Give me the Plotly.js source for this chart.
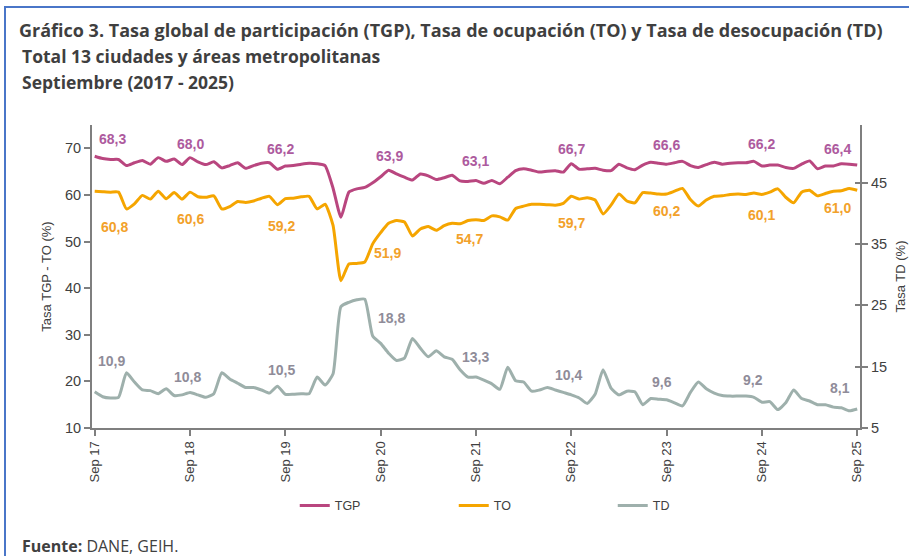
<!DOCTYPE html>
<html>
<head>
<meta charset="utf-8">
<script src="https://cdn.plot.ly/plotly-3.0.1.min.js"></script>
<style>
  html, body { margin: 0; padding: 0; background: #ffffff; }
  #wrap { position: relative; width: 909px; height: 556px; overflow: hidden; }
  #chart { position: absolute; left: 0; top: 0; width: 909px; height: 556px; }
  #frame { position: absolute; left: 4px; top: 6px; width: 920px; height: 600px;
           border-top: 2px solid #4a76c8; border-left: 2px solid #4a76c8; pointer-events: none; }
</style>
</head>
<body>
<div id="wrap">
  <div id="chart"></div>
  <div id="frame"></div>
</div>
<script>
// ---- Data (monthly, Sep 2017 - Sep 2025) ----
const xTickLabels = ['Sep 17', 'Sep 18', 'Sep 19', 'Sep 20', 'Sep 21', 'Sep 22', 'Sep 23', 'Sep 24', 'Sep 25'];

const tgp = [
  68.3, 67.8, 67.6, 67.6, 66.3, 66.9, 67.4, 66.6, 68.0, 67.2, 67.7, 66.5,
  68.0, 67.1, 66.5, 67.1, 65.8, 66.3, 66.9, 65.7, 66.3, 66.8, 66.9, 65.5,
  66.2, 66.3, 66.6, 66.8, 66.7, 66.3, 61.5, 55.2, 60.6, 61.3, 61.6, 62.6,
  63.9, 65.3, 64.5, 63.8, 63.2, 64.5, 64.1, 63.3, 63.7, 64.2, 63.0, 62.9,
  63.1, 62.5, 63.1, 62.4, 63.8, 65.2, 65.6, 65.3, 64.9, 65.1, 65.2, 64.9,
  66.7, 65.5, 65.6, 65.7, 65.3, 65.2, 66.6, 65.8, 65.4, 66.4, 67.0, 66.8,
  66.6, 66.9, 67.2, 66.3, 65.9, 66.5, 67.0, 66.6, 66.8, 66.9, 66.9, 67.2,
  66.2, 66.4, 66.4, 65.9, 65.7, 66.6, 67.3, 65.6, 66.2, 66.2, 66.7, 66.6,
  66.4
];

const to = [
  60.8, 60.7, 60.6, 60.6, 57.0, 58.1, 59.9, 59.1, 60.8, 59.2, 60.5, 59.1,
  60.6, 59.6, 59.5, 59.8, 57.0, 57.5, 58.6, 58.4, 58.7, 59.3, 59.7, 57.9,
  59.2, 59.3, 59.6, 59.7, 57.0, 58.0, 53.5, 41.6, 45.2, 45.3, 45.6, 49.5,
  51.9, 53.9, 54.5, 54.2, 51.2, 52.7, 53.2, 52.4, 53.4, 53.9, 53.8, 54.5,
  54.7, 54.5, 55.5, 55.3, 54.6, 57.1, 57.6, 58.0, 58.0, 57.9, 57.8, 58.2,
  59.7, 59.1, 59.4, 58.9, 55.9, 57.8, 60.2, 58.7, 58.3, 60.5, 60.4, 60.2,
  60.2, 60.8, 61.4, 59.0, 57.6, 58.9, 59.7, 59.8, 60.1, 60.2, 60.1, 60.4,
  60.1, 60.6, 61.3, 59.5, 58.3, 60.6, 61.0, 59.8, 60.3, 60.8, 60.9, 61.4,
  61.0
];

const td = [
  10.9, 10.1, 9.9, 10.0, 14.0, 12.5, 11.2, 11.1, 10.6, 11.4, 10.3, 10.4,
  10.8, 10.4, 10.0, 10.6, 14.0, 13.0, 12.3, 11.6, 11.6, 11.2, 10.7, 11.8,
  10.5, 10.5, 10.6, 10.6, 13.3, 12.0, 13.8, 24.8, 25.5, 25.9, 26.0, 20.0,
  18.8, 17.2, 16.0, 16.4, 19.6, 18.0, 16.6, 17.6, 16.6, 16.2, 14.5, 13.3,
  13.3, 12.8, 12.2, 11.3, 14.9, 12.7, 12.5, 11.0, 11.2, 11.6, 11.2, 10.8,
  10.4, 9.9, 9.0, 10.5, 14.5, 11.5, 10.4, 11.0, 10.9, 8.8, 9.8, 9.7,
  9.6, 9.1, 8.6, 10.8, 12.5, 11.4, 10.7, 10.3, 10.2, 10.2, 10.2, 10.0,
  9.2, 9.3, 8.0, 9.1, 11.2, 9.8, 9.4, 8.8, 8.8, 8.4, 8.3, 7.8,
  8.1
];

// ---- Styles ----
const C_TGP = '#b9467f', C_TGP_LBL = '#ad5a9e';
const C_TO = '#f5a500', C_TO_LBL = '#f2a12a';
const C_TD = '#9eb0ac', C_TD_LBL = '#8f8c99';
const AXIS_C = '#7f7f7f', TXT = '#404040';
const FONT = 'Liberation Sans, Arial, sans-serif';
const TFONT = 'Open Sans, Liberation Sans, sans-serif';

// label offsets (px) per September label: [xshift, yshift]
const tgpOff = [[18,17],[0,14],[-5,17],[9,21],[0,19],[0,15],[0,19],[0,22],[-20,16]];
const toOff  = [[20,-36],[0,-27],[-4,-27],[7,-20],[-6,-19],[0,-27],[0,-17],[0,-21],[-20,-18]];
const tdOff  = [[17,31],[-3,15],[-4,24],[11,25],[0,20],[-3,20],[-5,18],[-9,22],[-17,21]];

const idx = tgp.map((_, i) => i);
const sepIdx = xTickLabels.map((_, k) => k * 12);
const rightTicks = [5, 15, 25, 35, 45];
const rightRange = [5, 54.4];

const lineCommon = { width: 3, shape: 'spline', smoothing: 0.5 };
const traces = [
  { x: idx, y: tgp, name: 'TGP', type: 'scatter', mode: 'lines', line: Object.assign({ color: C_TGP }, lineCommon), yaxis: 'y' },
  { x: idx, y: to,  name: 'TO',  type: 'scatter', mode: 'lines', line: Object.assign({ color: C_TO }, lineCommon), yaxis: 'y' },
  { x: idx, y: td,  name: 'TD',  type: 'scatter', mode: 'lines', line: Object.assign({ color: C_TD }, lineCommon), yaxis: 'y2' },
  // invisible helper so the inner half of the right-axis cross ticks is drawn
  { x: idx, y: td, type: 'scatter', mode: 'lines', line: { width: 0, color: 'rgba(0,0,0,0)' },
    showlegend: false, hoverinfo: 'skip', yaxis: 'y3' }
];

const fmt = v => v.toFixed(1).replace('.', ',');
const annotations = [];
function addLabels(series, yref, color, offs) {
  sepIdx.forEach((i, k) => {
    annotations.push({
      x: i, y: series[i], xref: 'x', yref: yref,
      text: '<b>' + fmt(series[i]) + '</b>', showarrow: false,
      xshift: offs[k][0], yshift: offs[k][1],
      font: { family: FONT, size: 14, color: color }
    });
  });
}
addLabels(tgp, 'y', C_TGP_LBL, tgpOff);
addLabels(to, 'y', C_TO_LBL, toOff);
addLabels(td, 'y2', C_TD_LBL, tdOff);

// subtitle lines and source
const leftX = -0.0929;
annotations.push({ xref: 'paper', yref: 'paper', x: leftX, y: 1.2287, xanchor: 'left', yanchor: 'middle',
  text: '<b>Total 13 ciudades y áreas metropolitanas</b>', showarrow: false, borderpad: 0,
  font: { family: TFONT, size: 17.5, color: '#3f3f3f' } });
annotations.push({ xref: 'paper', yref: 'paper', x: leftX, y: 1.1429, xanchor: 'left', yanchor: 'middle',
  text: '<b>Septiembre (2017 - 2025)</b>', showarrow: false, borderpad: 0,
  font: { family: TFONT, size: 17.5, color: '#3f3f3f' } });
annotations.push({ xref: 'paper', yref: 'paper', x: leftX, y: -0.388, xanchor: 'left', yanchor: 'middle',
  text: '<b>Fuente:</b> DANE, GEIH.', showarrow: false, borderpad: 0,
  font: { family: TFONT, size: 16, color: '#404040' } });

const layout = {
  width: 909, height: 556,
  margin: { l: 92, r: 49, t: 125, b: 128 },
  paper_bgcolor: '#ffffff', plot_bgcolor: '#ffffff',
  font: { family: FONT, color: TXT },
  separators: ',.',
  showlegend: true,
  title: {
    text: '<b>Gráfico 3. Tasa global de participación (TGP), Tasa de ocupación (TO) y Tasa de desocupación (TD)</b>',
    x: 19 / 909, xanchor: 'left', xref: 'container',
    y: 1 - 31 / 556, yanchor: 'middle', yref: 'container',
    font: { family: TFONT, size: 18, color: '#3f3f3f' }
  },
  xaxis: {
    range: [-0.34, 96.35],
    tickmode: 'array', tickvals: sepIdx, ticktext: xTickLabels,
    tickangle: -90, ticks: 'outside', ticklen: 6, tickwidth: 1.5, tickcolor: AXIS_C,
    showline: true, linecolor: AXIS_C, linewidth: 2,
    showgrid: false, zeroline: false,
    tickfont: { family: FONT, size: 13, color: TXT }
  },
  yaxis: {
    range: [10, 75],
    tickmode: 'array', tickvals: [10, 20, 30, 40, 50, 60, 70],
    ticks: 'outside', ticklen: 6, tickwidth: 1.5, tickcolor: AXIS_C,
    showline: true, linecolor: AXIS_C, linewidth: 2,
    showgrid: false, zeroline: false,
    tickfont: { family: FONT, size: 14.5, color: TXT },
    title: { text: 'Tasa TGP - TO (%)', standoff: 10, font: { family: FONT, size: 13, color: TXT } }
  },
  yaxis2: {
    overlaying: 'y', side: 'right',
    range: rightRange,
    tickmode: 'array', tickvals: rightTicks,
    ticks: 'outside', ticklen: 6, tickwidth: 1.5, tickcolor: AXIS_C,
    showline: true, linecolor: AXIS_C, linewidth: 2,
    showgrid: false, zeroline: false,
    tickfont: { family: FONT, size: 14.5, color: TXT },
    title: { text: 'Tasa TD (%)', standoff: 10, font: { family: FONT, size: 13, color: TXT } }
  },
  yaxis3: {
    overlaying: 'y', side: 'right',
    range: rightRange,
    tickmode: 'array', tickvals: rightTicks,
    ticks: 'inside', ticklen: 5, tickwidth: 1.5, tickcolor: AXIS_C,
    showticklabels: false, showline: false,
    showgrid: false, zeroline: false
  },
  legend: {
    orientation: 'h', x: 0.2640, xanchor: 'left', y: -0.257, yanchor: 'middle',
    font: { family: FONT, size: 12.5, color: TXT },
    entrywidth: 114, entrywidthmode: 'pixels',
    bgcolor: 'rgba(0,0,0,0)'
  },
  annotations: annotations
};

Plotly.newPlot('chart', traces, layout, { displayModeBar: false, responsive: false });
</script>
</body>
</html>
